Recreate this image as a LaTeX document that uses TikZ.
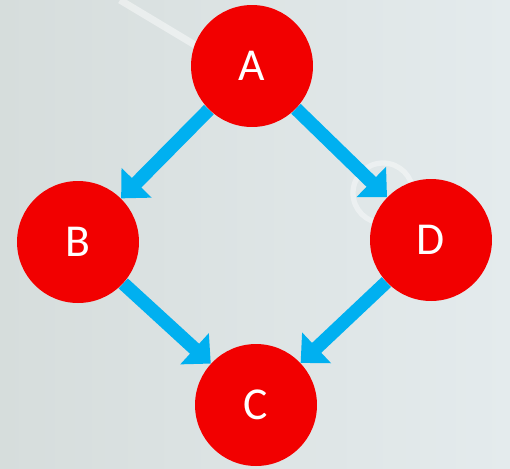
\documentclass[tikz,border=0pt]{standalone}
\usepackage{fontspec}
\setmainfont{Carlito}
\usetikzlibrary{arrows.meta}
\usetikzlibrary{backgrounds}
\definecolor{nodeRed}{HTML}{F20000}
\definecolor{flowBlue}{HTML}{00B0F0}
\definecolor{bgLeft}{HTML}{D6DDDC}
\definecolor{bgRight}{HTML}{E4EBED}

\begin{document}
\begin{tikzpicture}[
			x=0.02cm, y=-0.02cm,
			state/.style={circle, fill=nodeRed, minimum size=2.44cm, inner sep=0pt, text=white, font=\fontsize{26}{30}\selectfont},
			flow/.style={-{Triangle[width=0.82cm, length=0.44cm]}, line width=0.27cm, draw=flowBlue},
			]
			\useasboundingbox (0,0) rectangle (510,468);
			\node[state] (A) at (252,66) {A};
			\node[state] (B) at (78,242) {B};
			\node[state] (D) at (431,240) {D};
			\node[state] (C) at (256,405) {C};
			\begin{scope}[on background layer]
				\shade[left color=bgLeft, right color=bgRight] (0,0) rectangle (510,468);
				\draw[white, line width=4pt, opacity=0.45] (120,0) -- (200,48);
				\draw[white, line width=3pt, opacity=0.4] (383,193) circle (30);
				\foreach \i/\j in {A/B,A/D,B/C,D/C} \draw[flow] (\i) -- (\j);
			\end{scope}
		\end{tikzpicture}
\end{document}
